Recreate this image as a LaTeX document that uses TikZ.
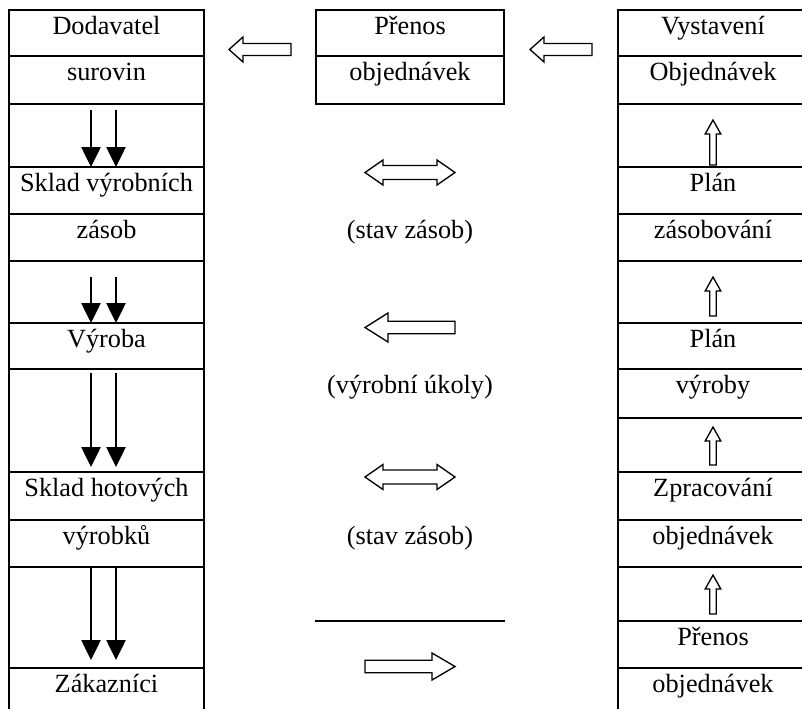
\documentclass[tikz,border=0pt]{standalone}
\usepackage{fontspec}
\setmainfont{Liberation Serif}
\usetikzlibrary{arrows.meta}
% block arrow outlines
\newcommand{\blkL}[6]{% tip x, tail x, y, shaft half, head half, head length
  \draw[blockarrow] (#1,#3) -- (#1+#6,#3-#5) -- (#1+#6,#3-#4) -- (#2,#3-#4) -- (#2,#3+#4) -- (#1+#6,#3+#4) -- (#1+#6,#3+#5) -- cycle;}
\newcommand{\blkR}[6]{%
  \draw[blockarrow] (#1,#3) -- (#1-#6,#3-#5) -- (#1-#6,#3-#4) -- (#2,#3-#4) -- (#2,#3+#4) -- (#1-#6,#3+#4) -- (#1-#6,#3+#5) -- cycle;}
\newcommand{\blkD}[6]{% x1, x2, y, shaft half, head half, head length
  \draw[blockarrow] (#1,#3) -- (#1+#6,#3-#5) -- (#1+#6,#3-#4) -- (#2-#6,#3-#4) -- (#2-#6,#3-#5) -- (#2,#3) -- (#2-#6,#3+#5) -- (#2-#6,#3+#4) -- (#1+#6,#3+#4) -- (#1+#6,#3+#5) -- cycle;}
\newcommand{\blkU}[6]{% x, tip y, tail y, shaft half, head half, head length
  \draw[blockarrow] (#1,#2) -- (#1+#5,#2+#6) -- (#1+#4,#2+#6) -- (#1+#4,#3) -- (#1-#4,#3) -- (#1-#4,#2+#6) -- (#1-#5,#2+#6) -- cycle;}
\begin{document}
\begin{tikzpicture}[x=0.75pt,y=-0.75pt,
  grid/.style={line width=1.5pt, line cap=rect},
  lbl/.style={anchor=base, inner sep=0pt, font=\fontsize{19.7pt}{24pt}\selectfont},
  blockarrow/.style={draw, line width=1pt, line join=miter},
  flow/.style={line width=1pt, -{Triangle[length=15pt,width=14.5pt]}}
]
\useasboundingbox (0,0) rectangle (802,708);
\begin{scope}
\clip (0,0) rectangle (802,708);
% left column
\draw[grid] (9,10) -- (9,730) (204,10) -- (204,730);
\foreach \y in {10,56,104,167,214,261,323,369,472,520,567,668}
  \draw[grid] (9,\y) -- (204,\y);
% right column
\draw[grid] (618,10) -- (618,730) (808,10) -- (808,730);
\foreach \y in {10,56,104,167,214,261,323,369,418,472,520,567,621,668}
  \draw[grid] (618,\y) -- (808,\y);
% middle box
\draw[grid] (316,10) rectangle (504,104);
\draw[grid] (316,56) -- (504,56);
\draw[grid] (316,621) -- (504,621);
\end{scope}

% left column texts
\foreach \n/\y/\t in {a/10/Dodavatel, b/56/surovin, c/167/Sklad výrobních, d/214/zásob, e/323/Výroba, f/472/Sklad hotových, g/520/výrobků, h/668/Zákazníci}
  \node[lbl] (L\n) at (106.5,\y+24) {\t};
% right column texts
\foreach \n/\y/\t in {a/10/Vystavení, b/56/Objednávek, c/167/Plán, d/214/zásobování, e/323/Plán, f/369/výroby, g/472/Zpracování, h/520/objednávek, i/621/Přenos, j/668/objednávek}
  \node[lbl] (R\n) at (713,\y+24) {\t};
% middle texts
\foreach \n/\y/\t in {a/10/Přenos, b/56/objednávek, c/214/(stav zásob), d/369/(výrobní úkoly), e/520/(stav zásob)}
  \node[lbl] (M\n) at (410,\y+24) {\t};

% down arrows in the left column
\foreach \ya/\yb in {110/167, 277/323, 373/467, 567/660} {
  \coordinate (da1) at (91,\ya);  \coordinate (db1) at (91,\yb);
  \coordinate (da2) at (116,\ya); \coordinate (db2) at (116,\yb);
  \draw[flow] (da1) -- (db1);
  \draw[flow] (da2) -- (db2);
}

% block arrows in the middle
\blkL{229}{291}{49.5}{6}{12.5}{14}
\blkL{530}{592}{49.5}{6}{12.5}{14}
\blkD{365}{455}{172.5}{7}{12.5}{18}
\blkL{365}{455}{327.5}{6.2}{14.5}{23}
\blkD{365}{455}{477}{7}{12.5}{18}
\blkR{455}{365}{666.5}{6.3}{13.5}{23}

% up arrows in the right column
\blkU{713}{120}{165}{3.2}{7.8}{14}
\blkU{713}{277}{316}{3.2}{7.8}{14}
\blkU{713}{427}{465}{3.2}{7.8}{14}
\blkU{713}{575}{614}{3.2}{7.8}{14}
\end{tikzpicture}
\end{document}
